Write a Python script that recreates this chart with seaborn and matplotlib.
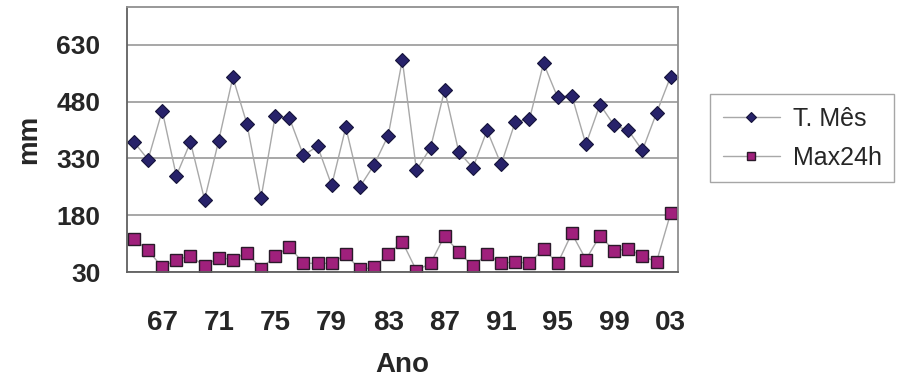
import numpy as np
import pandas as pd
import seaborn as sns
import matplotlib.pyplot as plt

# dados (1965-2003)
anos = list(range(1965, 2004))
t_mes = [373, 327, 456, 284, 373, 221, 377, 544, 421, 226,
         441, 437, 338, 362, 259, 412, 255, 313, 390, 590,
         299, 358, 511, 347, 305, 404, 314, 427, 433, 581,
         491, 496, 367, 472, 417, 404, 351, 450, 546]
max24h = [116, 88, 42, 63, 72, 46, 68, 63, 81, 39,
          72, 97, 53, 53, 53, 77, 37, 42, 77, 110,
          34, 53, 126, 82, 46, 77, 53, 57, 53, 91,
          53, 132, 63, 126, 86, 91, 72, 57, 185]
tick_anos = [1967, 1971, 1975, 1979, 1983, 1987, 1991, 1995, 1999, 2003]
tick_labels = ["67", "71", "75", "79", "83", "87", "91", "95", "99", "03"]
y_ticks = [30, 180, 330, 480, 630]

df = pd.DataFrame({"ano": anos, "T. Mês": t_mes, "Max24h": max24h})

sns.set_style("white")
plt.rcParams['font.family'] = ['Liberation Sans', 'DejaVu Sans']

fig = plt.figure(figsize=(9, 3.81), dpi=100)
ax = fig.add_axes([0.141, 0.286, 0.612, 0.696])

sns.lineplot(data=df, x="ano", y="T. Mês", ax=ax, color="#a8a8a8", lw=1,
             marker="D", markersize=7, markerfacecolor="#27226a",
             markeredgecolor="#15133a", markeredgewidth=0.8, label="T. Mês")
sns.lineplot(data=df, x="ano", y="Max24h", ax=ax, color="#a8a8a8", lw=1,
             marker="s", markersize=8, markerfacecolor="#a0207c",
             markeredgecolor="#2a1a2a", markeredgewidth=1, label="Max24h")

ax.set_xlim(1964.5, 2003.5)
ax.set_ylim(30, 730)
ax.set_yticks(y_ticks)
ax.set_yticklabels([str(v) for v in y_ticks], fontsize=19, fontweight="bold")
ax.set_xticks(tick_anos)
ax.set_xticklabels(tick_labels, fontsize=20, fontweight="bold")
ax.set_xticks(np.arange(1964.5, 2004, 1), minor=True)
ax.tick_params(axis="x", which="major", length=0, pad=27)
ax.tick_params(axis="x", which="minor", length=7, width=1, color="#909090", direction="out")
ax.tick_params(axis="y", length=10, width=1.2, color="#909090", pad=9)

ax.yaxis.grid(True, color="#a0a0a0", lw=1.3)
ax.set_axisbelow(True)
for s in ["top", "right"]:
    ax.spines[s].set_color("#909090")
    ax.spines[s].set_linewidth(1.3)
for s in ["left", "bottom"]:
    ax.spines[s].set_color("#606060")
    ax.spines[s].set_linewidth(1.3)

ax.set_xlabel("Ano", fontsize=20, fontweight="bold", labelpad=12)
ax.set_ylabel("mm", fontsize=20, fontweight="bold", labelpad=10)

leg = ax.legend(loc="upper left", bbox_to_anchor=(0.789, 0.753),
                bbox_transform=fig.transFigure, fontsize=18, frameon=True,
                fancybox=False, handlelength=2.3, handletextpad=0.5,
                borderpad=0.5, labelspacing=0.6, borderaxespad=0)
leg.get_frame().set_edgecolor("#909090")
leg.get_frame().set_linewidth(1)
for h in leg.legend_handles:
    h.set_markersize(5.5)

fig.savefig("out.png", dpi=100)
